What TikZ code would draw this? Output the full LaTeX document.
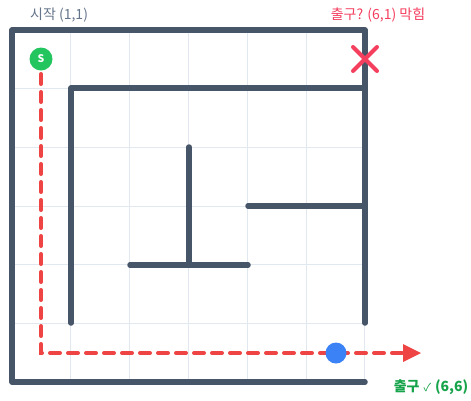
\documentclass[tikz,border=0pt]{standalone}
\usepackage{fontspec}
\setmainfont{Noto Sans CJK KR}
\newfontfamily\symfont{DejaVu Sans}
\usetikzlibrary{arrows.meta,calc}
\definecolor{wallc}{HTML}{475569}
\definecolor{gridc}{HTML}{E2E8F0}
\definecolor{pathc}{HTML}{EF4444}
\definecolor{xc}{HTML}{F43F5E}
\definecolor{startc}{HTML}{22C55E}
\definecolor{goalc}{HTML}{16A34A}
\definecolor{dotc}{HTML}{3B82F6}
\definecolor{labc}{HTML}{64748B}
\tikzset{
  wall/.style={draw=wallc, line width=5.5pt, line cap=round, line join=round},
  gridline/.style={draw=gridc, line width=1pt},
  route/.style={draw=pathc, line width=4pt, line cap=round, dash pattern=on 10pt off 8pt},
  lab/.style={font=\fontsize{14}{16}\selectfont, inner sep=0pt},
}
\begin{document}
\begin{tikzpicture}[x=1pt,y=-1pt]
\useasboundingbox (0,0) rectangle (471,400);
% grid
\foreach \i in {0,...,6} {
  \draw[gridline] ({12+\i*58.83},30) -- ({12+\i*58.83},382);
  \draw[gridline] (12,{30+\i*58.67}) -- (365,{30+\i*58.67});
}
% outer walls
\draw[wall] (365,323) -- (365,30) -- (12,30) -- (12,382) -- (365,382);
% inner walls
\draw[wall] (365,88) -- (71,88) -- (71,323);
\draw[wall] (189,147) -- (189,265);
\draw[wall] (130,265) -- (248,265);
\draw[wall] (248,206) -- (365,206);
% route
\node[circle, fill=startc, minimum size=23pt, inner sep=0pt, text=white, font=\fontsize{10.5}{12}\selectfont\bfseries] (s) at (41,59) {S};
\coordinate (corner) at (41,353);
\coordinate (exit) at (404,353);
\draw[route] (41,74) -- (corner) -- (exit);
\fill[pathc] (403,344) -- (421,353) -- (403,362) -- cycle;
\node[circle, fill=dotc, minimum size=21pt, inner sep=0pt] (cur) at (336,353) {};
% blocked X
\coordinate (xmark) at (365,59);
\draw[xc, line width=4pt, line cap=round] ($(xmark)+(-12,-12)$) -- ($(xmark)+(12,12)$) ($(xmark)+(-12,12)$) -- ($(xmark)+(12,-12)$);
% labels
\node[lab, text=labc, anchor=west] (startlab) at (30,15) {시작 (1,1)};
\node[lab, text=xc, anchor=center] (blocklab) at (378,15) {출구? (6,1) 막힘};
\node[lab, text=goalc, anchor=center, font=\fontsize{14}{16}\selectfont\bfseries] (goallab) at (431,387) {출구\hspace{4pt}{\symfont\normalfont\fontsize{11}{14}\selectfont ✓}\hspace{4pt}(6,6)};
\end{tikzpicture}
\end{document}
